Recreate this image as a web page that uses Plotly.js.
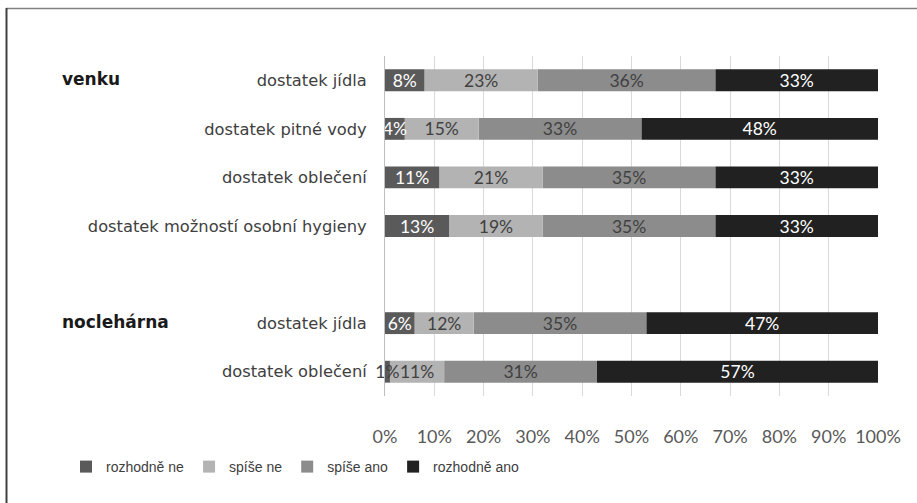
<!DOCTYPE html>
<html>
<head>
<meta charset="utf-8">
<script src="https://cdn.plot.ly/plotly-3.0.1.min.js"></script>
<style>
  html, body { margin: 0; padding: 0; background: #ffffff; }
  #chart { width: 917px; height: 503px; }
</style>
</head>
<body>
<div id="chart"></div>
<script>
// ---- data ----
const categories = ["dostatek jídla", "dostatek pitné vody", "dostatek oblečení",
  "dostatek možností osobní hygieny", "", "dostatek jídla", "dostatek oblečení"];
const groups = ["venku", "", "", "", "", "noclehárna", ""];
const seriesNames = ["rozhodně ne", "spíše ne", "spíše ano", "rozhodně ano"];
const rozhodneNe  = [8, 4, 11, 13, null, 6, 1];
const spiseNe     = [23, 15, 21, 19, null, 12, 11];
const spiseAno    = [36, 33, 35, 35, null, 35, 31];
const rozhodneAno = [33, 48, 33, 33, null, 47, 57];
const xTickVals = [0, 10, 20, 30, 40, 50, 60, 70, 80, 90, 100];
const xTickText = ["0%", "10%", "20%", "30%", "40%", "50%", "60%", "70%", "80%", "90%", "100%"];

// ---- styles ----
const colors = ["#5a5a5a", "#b3b3b3", "#8c8c8c", "#212121"];
const labelFont = "Lato, 'Open Sans', sans-serif";
const yIdx = categories.map((c, i) => i);
const allSeries = [rozhodneNe, spiseNe, spiseAno, rozhodneAno];
const textColors = [
  rozhodneNe.map(v => (v != null && v < 3 ? "#404040" : "#ffffff")),
  "#404040", "#404040", "#ffffff"
];

// stacked by explicit bases so that the first (narrow) segment's labels are drawn on top
const bases = allSeries.map((vals, k) =>
  vals.map((v, i) => {
    let s = 0;
    for (let j = 0; j < k; j++) s += allSeries[j][i] || 0;
    return s;
  })
);

const traces = allSeries.map((vals, k) => ({
  type: "bar",
  orientation: "h",
  name: seriesNames[k],
  x: vals,
  base: bases[k],
  y: yIdx,
  width: 0.45,
  marker: { color: colors[k], line: { width: 0 } },
  text: vals.map(v => (v == null ? "" : v + "%")),
  textposition: "inside",
  insidetextanchor: "middle",
  textangle: 0,
  constraintext: "none",
  cliponaxis: false,
  textfont: { family: labelFont, size: 17.5, color: textColors[k] },
  hoverinfo: "skip"
})).reverse();

// plot area geometry
const L = 385, R = 878, T = 56, B = 396, W = 917, H = 503;
const px = v => (v - L) / (R - L);
const py = v => (B - v) / (B - T);

const annotations = [];
groups.forEach((g, i) => {
  if (g) annotations.push({
    text: "<b>" + g + "</b>",
    xref: "paper", x: px(60), xanchor: "left",
    yref: "y", y: i, yanchor: "middle", yshift: 1,
    showarrow: false,
    font: { family: "'DejaVu Sans', sans-serif", size: 17, color: "#1a1a1a" }
  });
});

const layout = {
  width: W, height: H,
  margin: { l: L, r: W - R, t: T, b: H - B, pad: 0 },
  paper_bgcolor: "#ffffff",
  plot_bgcolor: "#ffffff",
  barmode: "overlay",
  showlegend: true,
  xaxis: {
    range: [0, 100],
    tickvals: xTickVals,
    ticktext: xTickText,
    showgrid: true,
    gridcolor: "#d9d9d9",
    gridwidth: 1,
    zeroline: false,
    showline: false,
    ticks: "",
    ticklabelstandoff: 28,
    tickfont: { family: labelFont, size: 18, color: "#595959" },
    fixedrange: true
  },
  yaxis: {
    range: [6.5, -0.5],
    tickvals: yIdx,
    ticktext: categories,
    showgrid: false,
    zeroline: false,
    showline: true,
    linecolor: "#bfbfbf",
    linewidth: 1,
    ticks: "",
    ticklabelstandoff: 14,
    tickfont: { family: "'DejaVu Sans', sans-serif", size: 16.3, color: "#404040" },
    fixedrange: true
  },
  legend: {
    orientation: "h",
    xref: "container", yref: "container",
    x: 66 / W, xanchor: "left",
    y: (H - 467) / H, yanchor: "middle",
    font: { family: "'Liberation Sans', Arial, sans-serif", size: 14, color: "#404040" },
    traceorder: "reversed",
    itemwidth: 30,
    bgcolor: "rgba(0,0,0,0)"
  },
  annotations: annotations,
  shapes: [
    { type: "line", xref: "paper", yref: "paper",
      x0: px(6), x1: px(917), y0: py(8.5), y1: py(8.5),
      line: { color: "#808080", width: 1.5 } },
    { type: "line", xref: "paper", yref: "paper",
      x0: px(6.5), x1: px(6.5), y0: py(8), y1: py(503),
      line: { color: "#404040", width: 2 } }
  ]
};

Plotly.newPlot("chart", traces, layout, { displayModeBar: false, staticPlot: true });
</script>
</body>
</html>
